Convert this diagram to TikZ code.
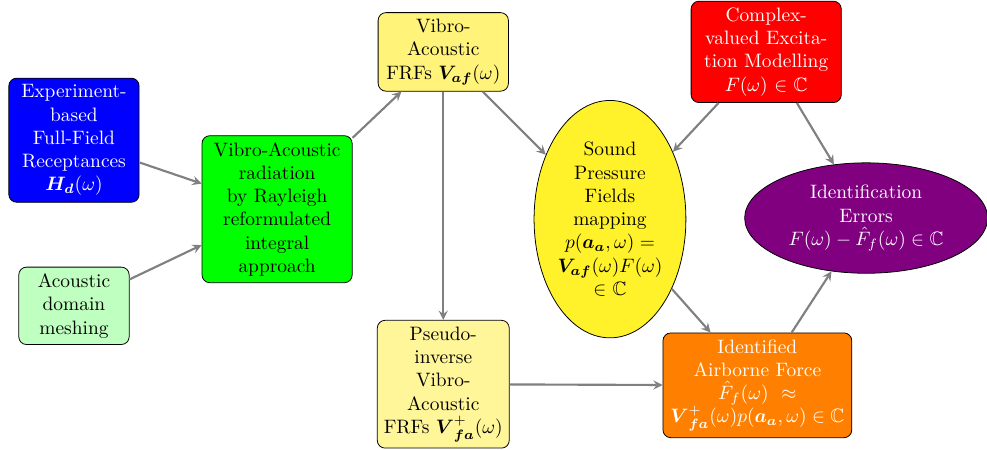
\documentclass[tikz,border=0pt]{standalone}
\usepackage{amsmath,amssymb}
\usepackage{tikz}
\usetikzlibrary{arrows,positioning,shapes.geometric}
\definecolor{frfyellow}{HTML}{FFF37A}
\definecolor{pinvyellow}{HTML}{FFF599}
\definecolor{soundyellow}{HTML}{FFF22A}
\tikzstyle{block}=[draw,rounded corners=4pt,align=center,minimum height=1cm]
\tikzstyle{bubble}=[draw,ellipse,align=center,inner sep=0pt]
\tikzstyle{flow}=[->,>=stealth,gray,line width=1.1pt]

\begin{document}
\begin{tikzpicture}
\useasboundingbox (0,0) rectangle (17.88,-8.14);
\node [block,fill=blue,text=white,minimum width=2.36cm] (exp) at (1.34,-2.54)
  {Experiment-\\based\\Full-Field\\Receptances\\$\boldsymbol{H_d}(\omega)$};
\node [block,fill=green!25,minimum width=2.0cm] (mesh) at (1.34,-5.54)
  {Acoustic\\domain\\meshing};
\node [block,fill=green,minimum width=2.72cm] (vib) at (5.02,-3.79)
  {Vibro-Acoustic\\radiation\\by Rayleigh\\reformulated\\integral\\approach};
\node [block,fill=frfyellow,minimum width=2.36cm] (vaf) at (8.03,-0.94)
  {Vibro-\\Acoustic\\FRFs $\boldsymbol{V_{af}}(\omega)$};
\node [block,fill=pinvyellow,minimum width=2.36cm] (pinv) at (8.03,-6.96)
  {Pseudo-\\inverse\\Vibro-\\Acoustic\\FRFs $\boldsymbol{V}^{+}_{\boldsymbol{fa}}(\omega)$};
\node [block,fill=red,text=white,minimum width=2.72cm] (exc) at (13.88,-0.94)
  {Complex-\\valued Excita-\\tion Modelling\\$F(\omega)$ $\in$ $\mathbb{C}$};
\node [bubble,fill=soundyellow,minimum width=2.75cm,minimum height=4.3cm] (sound) at (11.05,-3.97)
  {Sound\\Pressure\\Fields\\mapping\\$p(\boldsymbol{a_a},\omega) =$\\$\boldsymbol{V_{af}}(\omega)F(\omega)$\\$\in$ $\mathbb{C}$};
\node [bubble,fill=violet,text=white,minimum width=4.4cm,minimum height=2cm] (err) at (15.69,-3.95)
  {Identification\\Errors\\$F(\omega) - \hat{F}_f(\omega) \in \mathbb{C}$};
\node [block,fill=orange,text=white,minimum width=3.42cm] (force) at (13.72,-6.98)
  {Identified\\Airborne Force\\$\hat{F}_f(\omega)$ \ $\approx$\\$\boldsymbol{V}^{+}_{\boldsymbol{fa}}(\omega)p(\boldsymbol{a_a},\omega) \in \mathbb{C}$};

% connections
\draw [flow] (exp) -- (vib);
\draw [flow] (mesh) -- (vib);
\draw [flow] (vib) -- (vaf);
\draw [flow] (vaf) -- (sound);
\draw [flow] (vaf) -- (pinv);
\draw [flow] (exc) -- (sound);
\draw [flow] (exc) -- (err);
\draw [flow] (sound) -- (force);
\draw [flow] (pinv) -- (force);
\draw [flow] (force) -- (err);
\end{tikzpicture}
\end{document}
